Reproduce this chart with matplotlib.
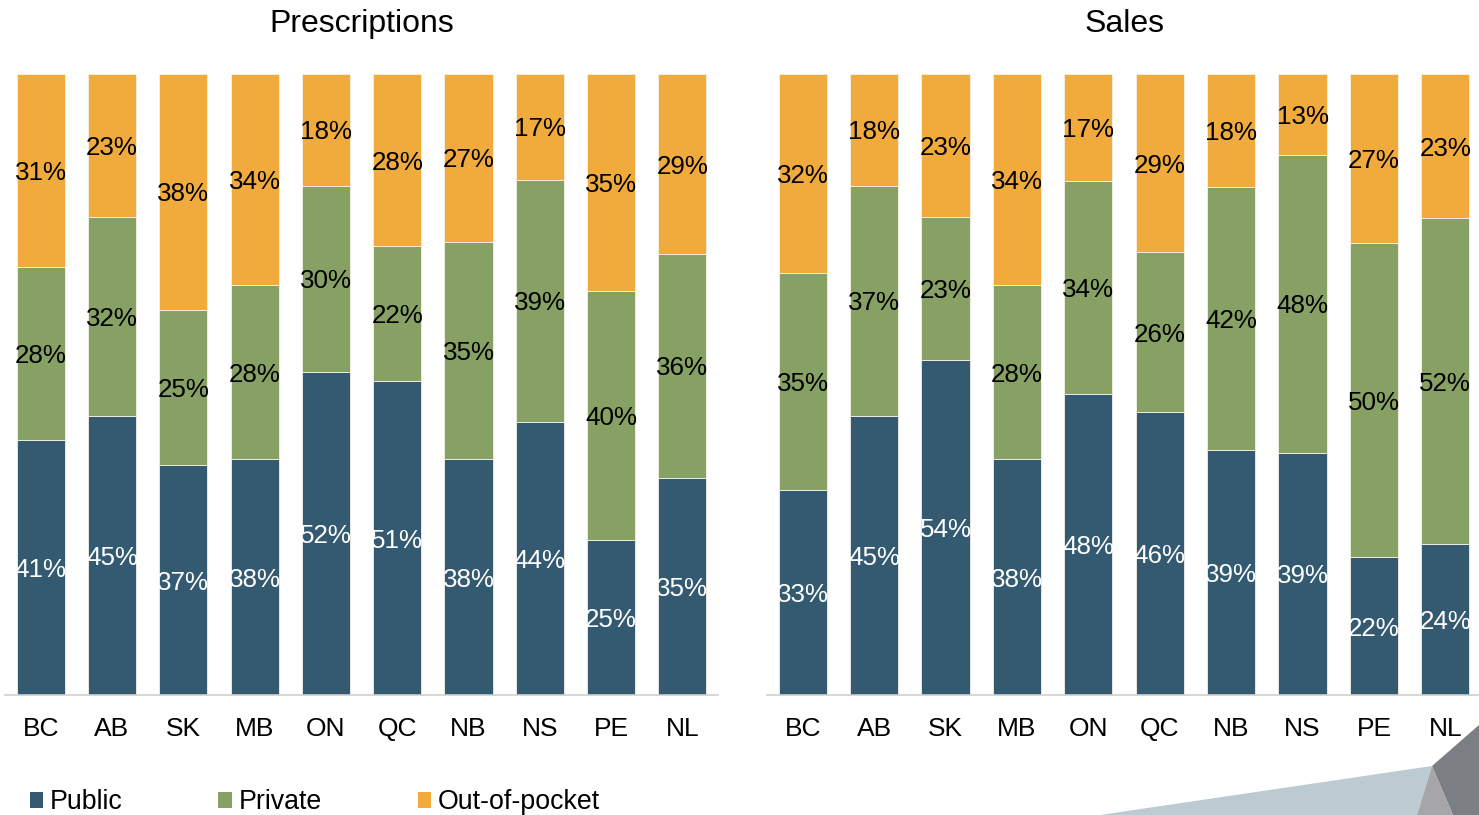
import numpy as np
import matplotlib.pyplot as plt
from matplotlib.patches import Patch, Polygon

plt.rcParams['font.family'] = ['Liberation Sans', 'DejaVu Sans']

# data (percent shares)
provinces = ["BC", "AB", "SK", "MB", "ON", "QC", "NB", "NS", "PE", "NL"]
rx_public = [41, 45, 37, 38, 52, 51, 38, 44, 25, 35]
rx_private = [28, 32, 25, 28, 30, 22, 35, 39, 40, 36]
rx_oop = [31, 23, 38, 34, 18, 28, 27, 17, 35, 29]
sales_public = [33, 45, 54, 38, 48, 46, 39, 39, 22, 24]
sales_private = [35, 37, 23, 28, 34, 26, 42, 48, 50, 52]
sales_oop = [32, 18, 23, 34, 17, 29, 18, 13, 27, 23]

series_names = ["Public", "Private", "Out-of-pocket"]
colors = ["#335a70", "#87a063", "#f0ab3c"]
label_colors = ["white", "black", "black"]

fig = plt.figure(figsize=(14.79, 8.15), dpi=100)
ax1 = fig.add_axes([0.0034, 0.1472, 0.4821, 0.762])
ax2 = fig.add_axes([0.5186, 0.1472, 0.4828, 0.762])


def stacked(ax, title, pub, priv, oop):
    data = np.array([pub, priv, oop], dtype=float)
    shares = data / data.sum(axis=0)   # bars fill to 100%
    x = np.arange(len(provinces))
    bottom = np.zeros(len(provinces))
    for i in range(3):
        ax.bar(x, shares[i], 0.674, bottom=bottom, color=colors[i],
               edgecolor="#f6f1e6", linewidth=0.6)
        for j in range(len(x)):
            ax.text(x[j], bottom[j] + shares[i][j] / 2, f"{int(data[i][j])}%",
                    ha="center", va="center_baseline", fontsize=18.7,
                    color=label_colors[i])
        bottom += shares[i]
    ax.set_xlim(-0.5, 9.5)
    ax.set_ylim(0, 1)
    ax.set_xticks(x)
    ax.set_xticklabels(provinces, fontsize=19)
    ax.tick_params(axis="x", length=0, pad=16)
    ax.set_yticks([])
    for s in ["top", "right", "left"]:
        ax.spines[s].set_visible(False)
    ax.spines["bottom"].set_color("#d0d0d0")
    ax.spines["bottom"].set_linewidth(1.2)
    ax.set_title(title, fontsize=23, pad=30)


stacked(ax1, "Prescriptions", rx_public, rx_private, rx_oop)
stacked(ax2, "Sales", sales_public, sales_private, sales_oop)

handles = [Patch(facecolor=c, edgecolor="none") for c in colors]
fig.legend(handles, series_names, loc="center left", bbox_to_anchor=(0.020, 0.0155),
           ncol=3, frameon=False, fontsize=19.3, handlelength=0.5, handleheight=0.55,
           handletextpad=0.25, columnspacing=3.58, borderpad=0, borderaxespad=0)

# decorative corner shapes
W, H = 1479.0, 815.0
def fpt(px, py):
    return (px / W, 1 - py / H)

shapes = [
    ([(1100, 815), (1432, 766), (1417, 815)], "#bccbd2"),
    ([(1432, 766), (1479, 725), (1479, 815), (1453, 815)], "#7b7e83"),
    ([(1432, 766), (1453, 815), (1417, 815)], "#a6a6a8"),
]
for pts, col in shapes:
    fig.patches.append(Polygon([fpt(*p) for p in pts], closed=True, facecolor=col,
                               edgecolor="none", transform=fig.transFigure))

fig.savefig("out.png", dpi=100)
